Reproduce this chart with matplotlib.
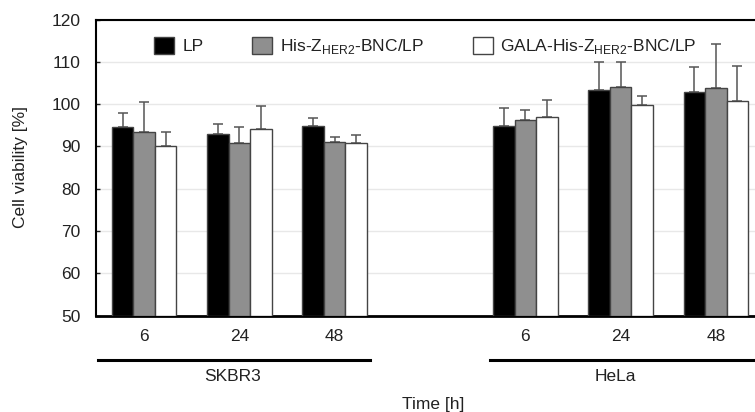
import numpy as np
import matplotlib
matplotlib.use("Agg")
from matplotlib import pyplot as plt

plt.rcParams['font.family'] = ['Liberation Sans', 'DejaVu Sans']

# data
times = ['6', '24', '48']
cells = ['SKBR3', 'HeLa']
series = ['LP', 'His-Z$_\\mathregular{HER2}$-BNC/LP', 'GALA-His-Z$_\\mathregular{HER2}$-BNC/LP']
lp_mean = [94.5, 92.9, 94.7, 94.9, 103.3, 102.9]
lp_sd = [3.4, 2.4, 2.0, 4.1, 6.6, 5.9]
his_mean = [93.3, 90.8, 91.1, 96.3, 104.1, 103.8]
his_sd = [7.1, 3.7, 1.2, 2.3, 5.9, 10.3]
gala_mean = [90.1, 94.1, 90.9, 96.9, 99.8, 100.8]
gala_sd = [3.4, 5.5, 1.7, 4.1, 2.2, 8.3]

means = [lp_mean, his_mean, gala_mean]
sds = [lp_sd, his_sd, gala_sd]
fills = ['#000000', '#8f8f8f', '#ffffff']

xpos = np.array([0, 1, 2, 4, 5, 6])
w = 0.226
fs = 12.5
tc = '#222222'

fig = plt.figure(figsize=(7.55, 4.12), dpi=100)
ax = fig.add_axes([96 / 755, 96.5 / 412, 659 / 755, 296 / 412])

handles = []
for i in range(3):
    m = np.array(means[i])
    s = np.array(sds[i])
    b = ax.bar(xpos + (i - 1) * w, m - 50, w, bottom=50, color=fills[i],
               edgecolor='#444444', linewidth=1.0, zorder=3,
               yerr=[np.zeros_like(s), s],
               error_kw=dict(ecolor='#555555', elinewidth=1.1, capsize=3.5, capthick=1.1, zorder=2),
               label=series[i])
    handles.append(b)

ax.set_xlim(-0.505, 6.41)
ax.set_ylim(50, 120)
ax.set_yticks(range(50, 121, 10))
ax.set_xticks(xpos)
ax.set_xticklabels(times * 2)
ax.tick_params(axis='y', direction='in', length=3, width=1, labelsize=fs, colors=tc, pad=11)
ax.tick_params(axis='x', length=0, labelsize=fs, colors=tc, pad=10)
ax.yaxis.grid(True, color='#e8e8e8', linewidth=1, zorder=0)
ax.set_axisbelow(True)

ax.spines['right'].set_visible(False)
ax.spines['top'].set_linewidth(1.5)
ax.spines['left'].set_linewidth(1.5)
ax.spines['bottom'].set_linewidth(2)

# group lines and labels under the axis
tr = ax.get_xaxis_transform()
ax.plot([-0.48, 2.37], [-0.15, -0.15], color='black', lw=2.2, transform=tr, clip_on=False)
ax.plot([3.63, 6.48], [-0.15, -0.15], color='black', lw=2.2, transform=tr, clip_on=False)
ax.text(0.93, -0.205, cells[0], transform=tr, ha='center', va='center', fontsize=fs, color=tc)
ax.text(4.95, -0.205, cells[1], transform=tr, ha='center', va='center', fontsize=fs, color=tc)
ax.text(0.511, -0.30, 'Time [h]', transform=ax.transAxes, ha='center', va='center', fontsize=fs, color=tc)

ax.set_ylabel('Cell viability [%]', fontsize=fs, color=tc)
ax.yaxis.set_label_coords(-0.103, 0.5)

leg = ax.legend(handles=handles, ncol=3, loc='upper left', bbox_to_anchor=(0.065, 0.995),
                frameon=False, fontsize=fs, handlelength=1.15, handleheight=1.15,
                columnspacing=2.8, handletextpad=0.45)
for t in leg.get_texts():
    t.set_color(tc)

fig.savefig('out.png', dpi=100)
